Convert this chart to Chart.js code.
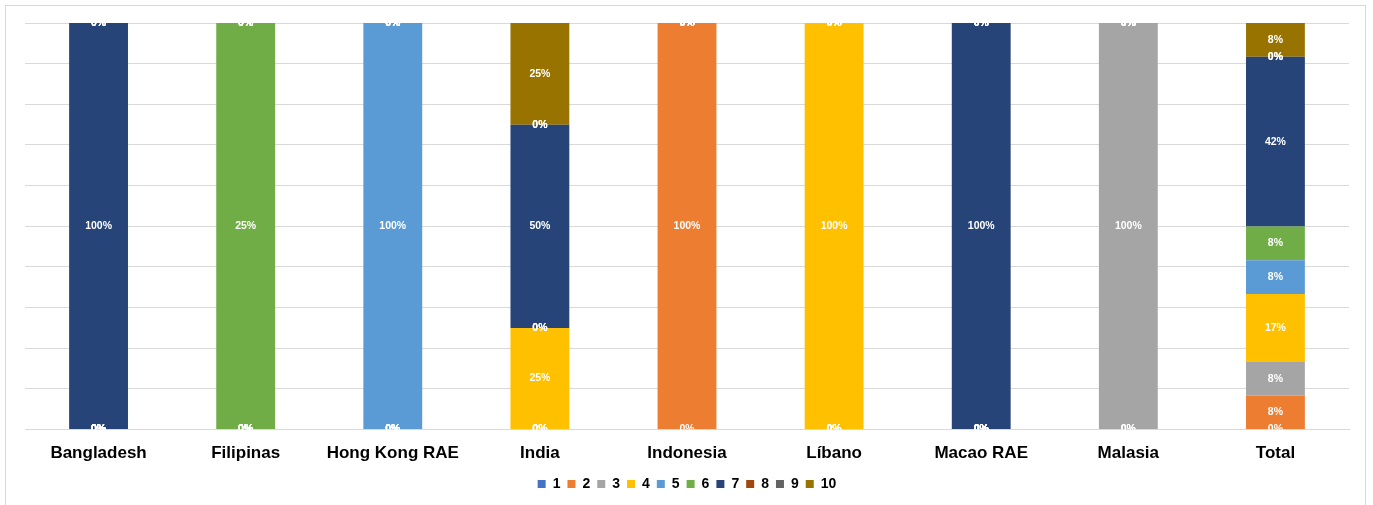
<!DOCTYPE html>
<html>
<head>
<meta charset="utf-8">
<script src="https://cdn.jsdelivr.net/npm/chart.js@4"></script>
<style>
  html, body { margin: 0; padding: 0; background: #fff; overflow: hidden; }
  #wrap { position: relative; width: 1373px; height: 505px; }
  #frame { position: absolute; left: 5px; top: 5px; width: 1361px; height: 520px;
           border: 1px solid #d9d9d9; box-sizing: border-box; pointer-events: none; }
</style>
</head>
<body>
<div id="wrap">
  <canvas id="c" width="1373" height="505"></canvas>
  <div id="frame"></div>
</div>
<script>
// ── Data (% per category; labels show rounded values) ───
const categories = ['Bangladesh', 'Filipinas', 'Hong Kong RAE', 'India', 'Indonesia', 'Líbano', 'Macao RAE', 'Malasia', 'Total'];
const seriesNames = ['1', '2', '3', '4', '5', '6', '7', '8', '9', '10'];

const s1  = [0,   0,  0,   0,  0,   0,   0,   0,   0];
const s2  = [0,   0,  0,   0,  100, 0,   0,   0,   8.3];
const s3  = [0,   0,  0,   0,  0,   0,   0,   100, 8.3];
const s4  = [0,   0,  0,   25, 0,   100, 0,   0,   16.7];
const s5  = [0,   0,  100, 0,  0,   0,   0,   0,   8.3];
const s6  = [0,   25, 0,   0,  0,   0,   0,   0,   8.3];
const s7  = [100, 0,  0,   50, 0,   0,   100, 0,   41.7];
const s8  = [0,   0,  0,   0,  0,   0,   0,   0,   0];
const s9  = [0,   0,  0,   0,  0,   0,   0,   0,   0];
const s10 = [0,   0,  0,   25, 0,   0,   0,   0,   8.3];

const seriesValues = [s1, s2, s3, s4, s5, s6, s7, s8, s9, s10];
const seriesColors = ['#4472C4', '#ED7D31', '#A5A5A5', '#FFC000', '#5B9BD5',
                      '#70AD47', '#264478', '#9E480E', '#636363', '#997300'];

// 100% stacked: normalise each category to its own total
const totals = categories.map((_, i) => seriesValues.reduce((a, s) => a + s[i], 0));

const datasets = seriesValues.map((vals, k) => ({
  label: seriesNames[k],
  data: vals.map((v, i) => totals[i] ? v / totals[i] * 100 : 0),
  raw: vals,
  backgroundColor: seriesColors[k],
  borderWidth: 0,
  barPercentage: 0.4,
  categoryPercentage: 1.0,
}));

// ── Value labels (Excel style, zeros included, clipped to plot) ──
const valueLabels = {
  id: 'valueLabels',
  afterDatasetsDraw(chart) {
    const { ctx, chartArea: a } = chart;
    ctx.save();
    ctx.beginPath();
    ctx.rect(a.left, a.top, a.right - a.left, a.bottom - a.top);
    ctx.clip();
    ctx.font = 'bold 10.5px "Liberation Sans", Arial, sans-serif';
    ctx.fillStyle = '#ffffff';
    ctx.textAlign = 'center';
    ctx.textBaseline = 'middle';
    chart.data.datasets.forEach((ds, k) => {
      chart.getDatasetMeta(k).data.forEach((bar, i) => {
        const y = (bar.y + bar.base) / 2;
        ctx.fillText(Math.round(ds.raw[i]) + '%', bar.x, y);
      });
    });
    ctx.restore();
  },
};

new Chart(document.getElementById('c'), {
  type: 'bar',
  data: { labels: categories, datasets },
  options: {
    responsive: false,
    animation: false,
    layout: { padding: { left: 25, right: 24, top: 23, bottom: 4 } },
    scales: {
      x: {
        stacked: true,
        grid: { display: false },
        border: { color: '#d9d9d9', width: 1 },
        ticks: { color: '#000', font: { family: '"Liberation Sans", Arial', size: 17, weight: 'bold' }, padding: 6 },
      },
      y: {
        stacked: true,
        min: 0,
        max: 100,
        ticks: { display: false, stepSize: 10 },
        grid: { color: '#d9d9d9', drawTicks: false },
        border: { display: false },
      },
    },
    plugins: {
      legend: {
        position: 'bottom',
        labels: {
          color: '#000',
          font: { family: '"Liberation Sans", Arial', size: 14, weight: 'bold' },
          boxWidth: 8,
          boxHeight: 8,
          padding: 7,
        },
      },
      tooltip: { enabled: false },
    },
  },
  plugins: [valueLabels],
});
</script>
</body>
</html>
